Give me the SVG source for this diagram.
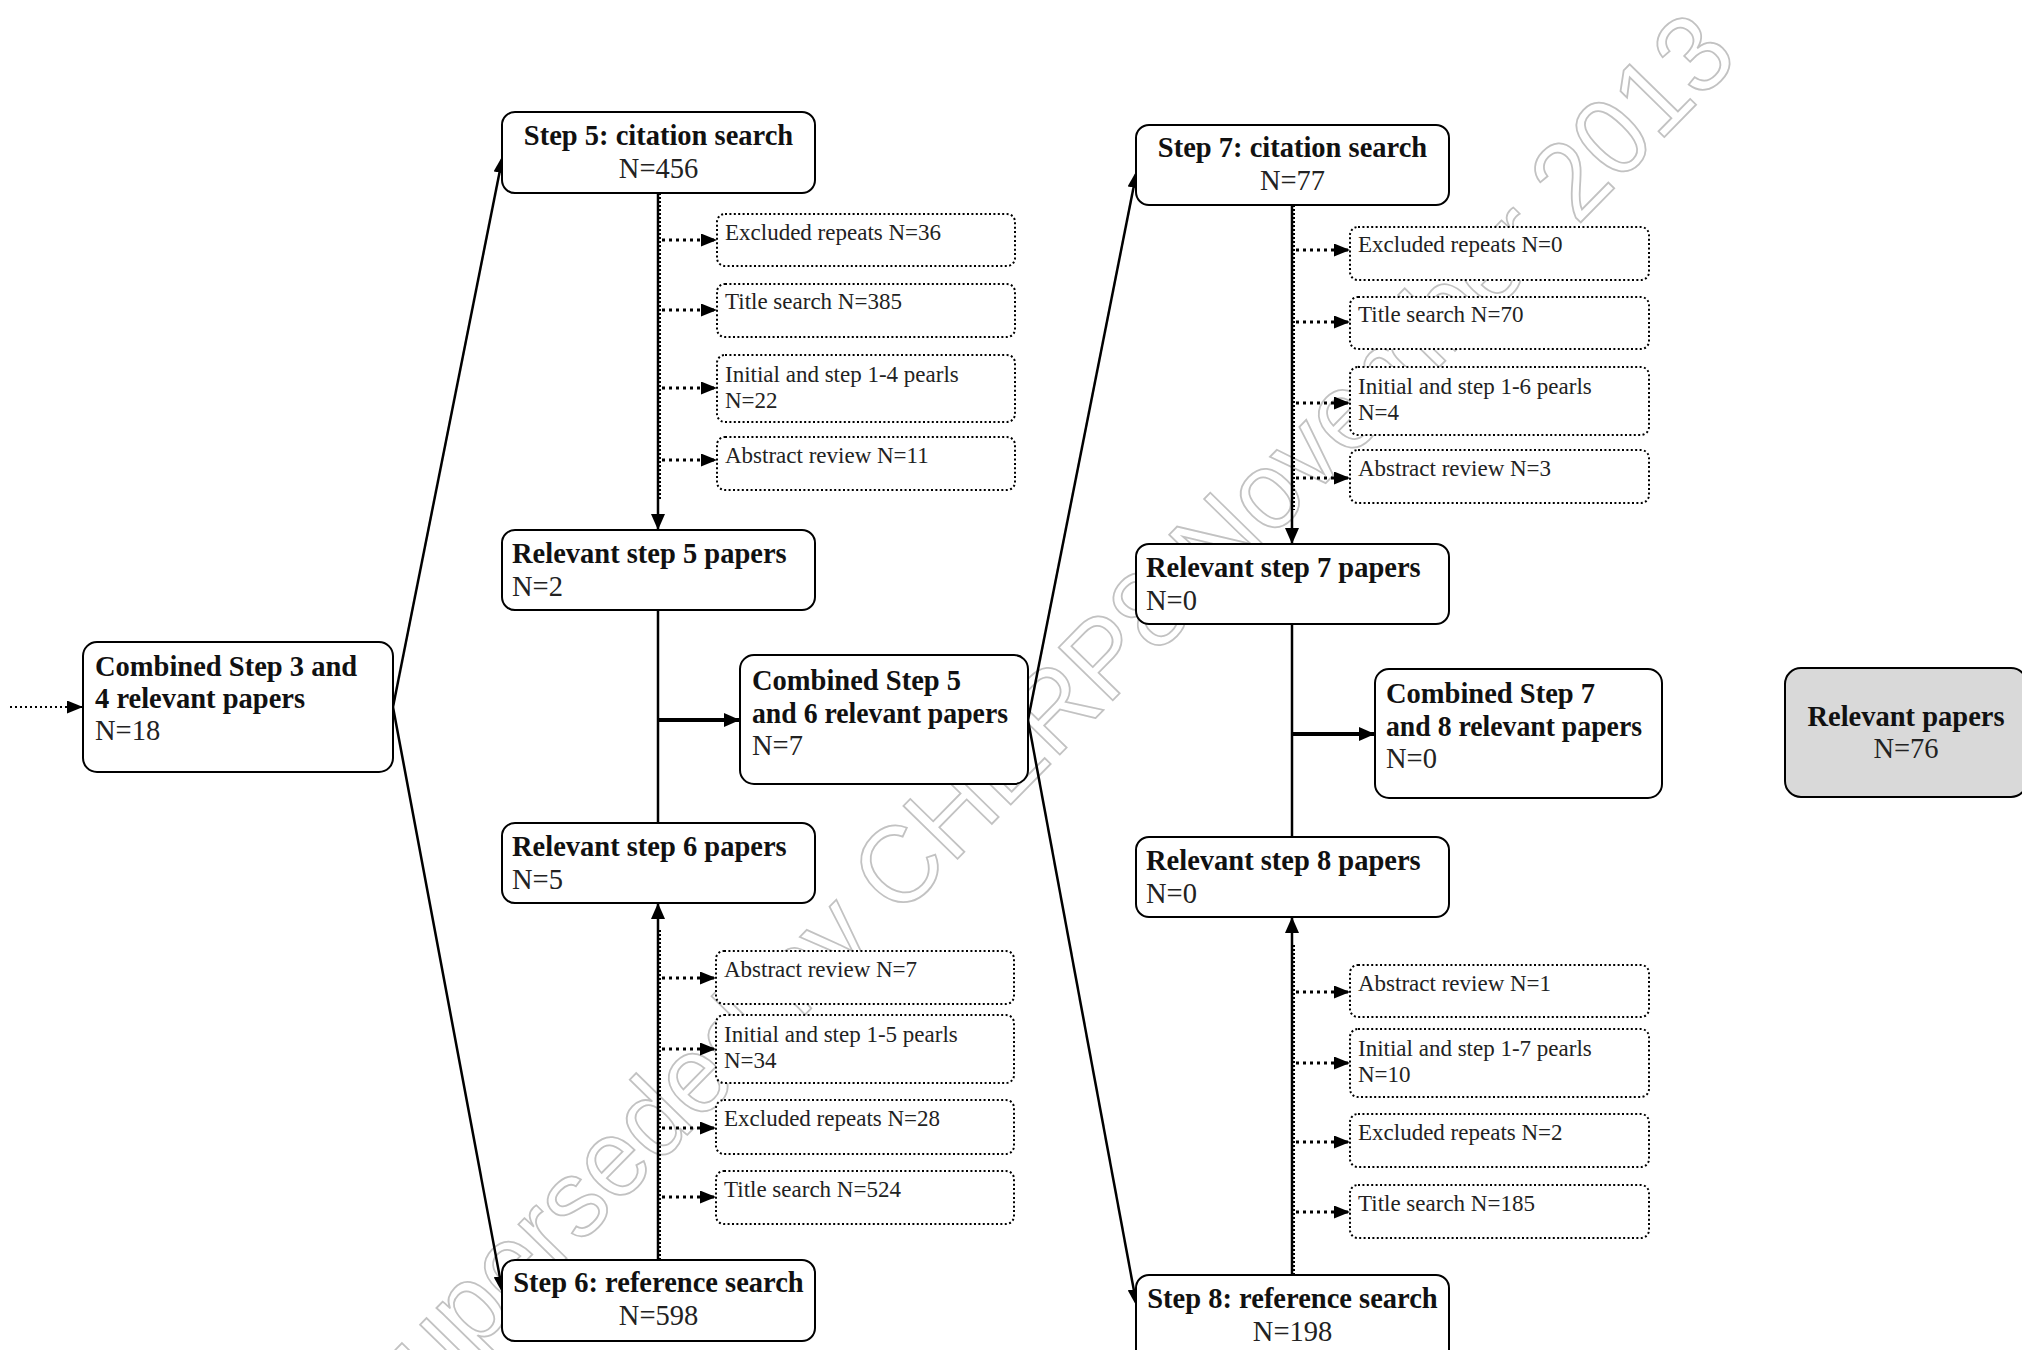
<svg xmlns="http://www.w3.org/2000/svg" width="2022" height="1350" viewBox="0 0 2022 1350">
<style>
.box{fill:#fff;stroke:#000;stroke-width:2}
.dbox{fill:#fff;stroke:#000;stroke-width:2;stroke-dasharray:2 2.4}
.gbox{fill:#d9d9d9;stroke:#000;stroke-width:2}
.b{font-family:"Liberation Serif","Times New Roman",serif;font-weight:bold;font-size:28.5px;fill:#111}
.r{font-family:"Liberation Serif","Times New Roman",serif;font-size:28.5px;fill:#222}
.s{font-family:"Liberation Serif","Times New Roman",serif;font-size:23px;fill:#222}
.c{text-anchor:middle}
.ln{stroke:#000;stroke-width:2.5;fill:none}
.thk{stroke:#000;stroke-width:4;fill:none}
.dl{stroke:#000;stroke-width:3;stroke-dasharray:3 4;fill:none}
.dv{stroke:#000;stroke-width:2;stroke-dasharray:2 2;fill:none}
.wm{font-family:"Liberation Sans",Arial,sans-serif;font-size:110px;fill:none;stroke:#c2c2c2;stroke-width:1.8}
</style>
<defs>
<marker id="ah" viewBox="0 0 16 14" refX="16" refY="7" markerWidth="16" markerHeight="14" markerUnits="userSpaceOnUse" orient="auto"><path d="M0,0L16,7L0,14z" fill="#000"/></marker>
<marker id="ahd" viewBox="0 0 16 13" refX="16" refY="6.5" markerWidth="16" markerHeight="13" markerUnits="userSpaceOnUse" orient="auto"><path d="M0,0L16,6.5L0,13z" fill="#000"/></marker>
<marker id="ahn" viewBox="0 0 18 12" refX="18" refY="6" markerWidth="18" markerHeight="12" markerUnits="userSpaceOnUse" orient="auto"><path d="M0,0L18,6L0,12z" fill="#000"/></marker>
</defs>
<rect width="2022" height="1350" fill="#fff"/>
<text class="wm" text-anchor="middle" transform="translate(1034,725) rotate(-45.6)" x="0" y="39" textLength="1940" lengthAdjust="spacingAndGlyphs">Superseded by CHERP8 November 2013</text>

<g id="connectors">
<line class="dv" x1="10" y1="707" x2="83" y2="707" style="stroke-width:2;stroke-dasharray:2 3" marker-end="url(#ahd)"/>
<line class="ln" x1="393" y1="707" x2="503" y2="155" marker-end="url(#ahn)"/>
<line class="ln" x1="393" y1="707" x2="503" y2="1294" marker-end="url(#ahn)"/>
<line class="ln" x1="1028" y1="720" x2="1137" y2="170" marker-end="url(#ahn)"/>
<line class="ln" x1="1028" y1="720" x2="1137" y2="1307" marker-end="url(#ahn)"/>

<line class="ln" x1="658" y1="193" x2="658" y2="530" marker-end="url(#ah)"/>
<line class="dv" x1="660" y1="193" x2="660" y2="500"/>
<line class="ln" x1="658" y1="610" x2="658" y2="823"/>
<line class="thk" x1="658" y1="720" x2="740" y2="720" marker-end="url(#ah)"/>
<line class="ln" x1="658" y1="1260" x2="658" y2="903" marker-end="url(#ah)"/>
<line class="dv" x1="660" y1="1260" x2="660" y2="930"/>

<line class="ln" x1="1292" y1="205" x2="1292" y2="544" marker-end="url(#ah)"/>
<line class="dv" x1="1294" y1="205" x2="1294" y2="510"/>
<line class="ln" x1="1292" y1="624" x2="1292" y2="837"/>
<line class="thk" x1="1292" y1="734" x2="1375" y2="734" marker-end="url(#ah)"/>
<line class="ln" x1="1292" y1="1275" x2="1292" y2="917" marker-end="url(#ah)"/>
<line class="dv" x1="1294" y1="1275" x2="1294" y2="945"/>

<line class="dl" x1="662" y1="240" x2="717" y2="240" marker-end="url(#ahd)"/>
<line class="dl" x1="662" y1="310" x2="717" y2="310" marker-end="url(#ahd)"/>
<line class="dl" x1="662" y1="388" x2="717" y2="388" marker-end="url(#ahd)"/>
<line class="dl" x1="662" y1="460" x2="717" y2="460" marker-end="url(#ahd)"/>
<line class="dl" x1="662" y1="978" x2="716" y2="978" marker-end="url(#ahd)"/>
<line class="dl" x1="662" y1="1049" x2="716" y2="1049" marker-end="url(#ahd)"/>
<line class="dl" x1="662" y1="1128" x2="716" y2="1128" marker-end="url(#ahd)"/>
<line class="dl" x1="662" y1="1197" x2="716" y2="1197" marker-end="url(#ahd)"/>
<line class="dl" x1="1296" y1="250" x2="1350" y2="250" marker-end="url(#ahd)"/>
<line class="dl" x1="1296" y1="322" x2="1350" y2="322" marker-end="url(#ahd)"/>
<line class="dl" x1="1296" y1="403" x2="1350" y2="403" marker-end="url(#ahd)"/>
<line class="dl" x1="1296" y1="478" x2="1350" y2="478" marker-end="url(#ahd)"/>
<line class="dl" x1="1296" y1="992" x2="1350" y2="992" marker-end="url(#ahd)"/>
<line class="dl" x1="1296" y1="1063" x2="1350" y2="1063" marker-end="url(#ahd)"/>
<line class="dl" x1="1296" y1="1142" x2="1350" y2="1142" marker-end="url(#ahd)"/>
<line class="dl" x1="1296" y1="1212" x2="1350" y2="1212" marker-end="url(#ahd)"/>
</g>

<g id="combined34"><rect class="box" x="83" y="642" width="310" height="130" rx="14"/>
<text class="b" x="95" y="676">Combined Step 3 and</text><text class="b" x="95" y="708">4 relevant papers</text><text class="r" x="95" y="740">N=18</text></g>

<g id="step5"><rect class="box" x="502" y="112" width="313" height="81" rx="13"/>
<text class="b c" x="658.5" y="145">Step 5: citation search</text><text class="r c" x="658.5" y="178">N=456</text></g>
<g id="ex36"><rect class="dbox" x="717" y="214" width="298" height="52" rx="8"/><text class="s" x="725" y="240">Excluded repeats N=36</text></g>
<g id="ti385"><rect class="dbox" x="717" y="284" width="298" height="53" rx="8"/><text class="s" x="725" y="309">Title search N=385</text></g>
<g id="in14"><rect class="dbox" x="717" y="355" width="298" height="67" rx="8"/><text class="s" x="725" y="382">Initial and step 1-4 pearls</text><text class="s" x="725" y="408">N=22</text></g>
<g id="ab11"><rect class="dbox" x="717" y="437" width="298" height="53" rx="8"/><text class="s" x="725" y="463">Abstract review N=11</text></g>

<g id="rel5"><rect class="box" x="502" y="530" width="313" height="80" rx="13"/>
<text class="b" x="512" y="563">Relevant step 5 papers</text><text class="r" x="512" y="596">N=2</text></g>
<g id="combined56"><rect class="box" x="740" y="655" width="288" height="129" rx="14"/>
<text class="b" x="752" y="690">Combined Step 5</text><text class="b" x="752" y="723" textLength="256" lengthAdjust="spacingAndGlyphs">and 6 relevant papers</text><text class="r" x="752" y="755">N=7</text></g>
<g id="rel6"><rect class="box" x="502" y="823" width="313" height="80" rx="13"/>
<text class="b" x="512" y="856">Relevant step 6 papers</text><text class="r" x="512" y="889">N=5</text></g>

<g id="ab7"><rect class="dbox" x="716" y="951" width="298" height="53" rx="8"/><text class="s" x="724" y="977">Abstract review N=7</text></g>
<g id="in15"><rect class="dbox" x="716" y="1015" width="298" height="68" rx="8"/><text class="s" x="724" y="1042">Initial and step 1-5 pearls</text><text class="s" x="724" y="1068">N=34</text></g>
<g id="ex28"><rect class="dbox" x="716" y="1100" width="298" height="54" rx="8"/><text class="s" x="724" y="1126">Excluded repeats N=28</text></g>
<g id="ti524"><rect class="dbox" x="716" y="1171" width="298" height="53" rx="8"/><text class="s" x="724" y="1197">Title search N=524</text></g>
<g id="step6"><rect class="box" x="502" y="1260" width="313" height="81" rx="13"/>
<text class="b c" x="658.5" y="1292">Step 6: reference search</text><text class="r c" x="658.5" y="1325">N=598</text></g>

<g id="step7"><rect class="box" x="1136" y="125" width="313" height="80" rx="13"/>
<text class="b c" x="1292.5" y="157">Step 7: citation search</text><text class="r c" x="1292.5" y="190">N=77</text></g>
<g id="ex0"><rect class="dbox" x="1350" y="227" width="299" height="53" rx="8"/><text class="s" x="1358" y="252">Excluded repeats N=0</text></g>
<g id="ti70"><rect class="dbox" x="1350" y="297" width="299" height="52" rx="8"/><text class="s" x="1358" y="322">Title search N=70</text></g>
<g id="in16"><rect class="dbox" x="1350" y="367" width="299" height="68" rx="8"/><text class="s" x="1358" y="394">Initial and step 1-6 pearls</text><text class="s" x="1358" y="420">N=4</text></g>
<g id="ab3"><rect class="dbox" x="1350" y="450" width="299" height="53" rx="8"/><text class="s" x="1358" y="476">Abstract review N=3</text></g>

<g id="rel7"><rect class="box" x="1136" y="544" width="313" height="80" rx="13"/>
<text class="b" x="1146" y="577">Relevant step 7 papers</text><text class="r" x="1146" y="610">N=0</text></g>
<g id="combined78"><rect class="box" x="1375" y="669" width="287" height="129" rx="14"/>
<text class="b" x="1386" y="703">Combined Step 7</text><text class="b" x="1386" y="736" textLength="256" lengthAdjust="spacingAndGlyphs">and 8 relevant papers</text><text class="r" x="1386" y="768">N=0</text></g>
<g id="rel8"><rect class="box" x="1136" y="837" width="313" height="80" rx="13"/>
<text class="b" x="1146" y="870">Relevant step 8 papers</text><text class="r" x="1146" y="903">N=0</text></g>

<g id="ab1"><rect class="dbox" x="1350" y="965" width="299" height="52" rx="8"/><text class="s" x="1358" y="991">Abstract review N=1</text></g>
<g id="in17"><rect class="dbox" x="1350" y="1029" width="299" height="68" rx="8"/><text class="s" x="1358" y="1056">Initial and step 1-7 pearls</text><text class="s" x="1358" y="1082">N=10</text></g>
<g id="ex2"><rect class="dbox" x="1350" y="1114" width="299" height="53" rx="8"/><text class="s" x="1358" y="1140">Excluded repeats N=2</text></g>
<g id="ti185"><rect class="dbox" x="1350" y="1185" width="299" height="53" rx="8"/><text class="s" x="1358" y="1211">Title search N=185</text></g>
<g id="step8"><rect class="box" x="1136" y="1275" width="313" height="95" rx="13"/>
<text class="b c" x="1292.5" y="1308">Step 8: reference search</text><text class="r c" x="1292.5" y="1341">N=198</text></g>

<g id="relevant"><rect class="gbox" x="1785" y="668" width="242" height="129" rx="16"/>
<text class="b c" x="1906" y="726">Relevant papers</text><text class="r c" x="1906" y="758">N=76</text></g>
</svg>
